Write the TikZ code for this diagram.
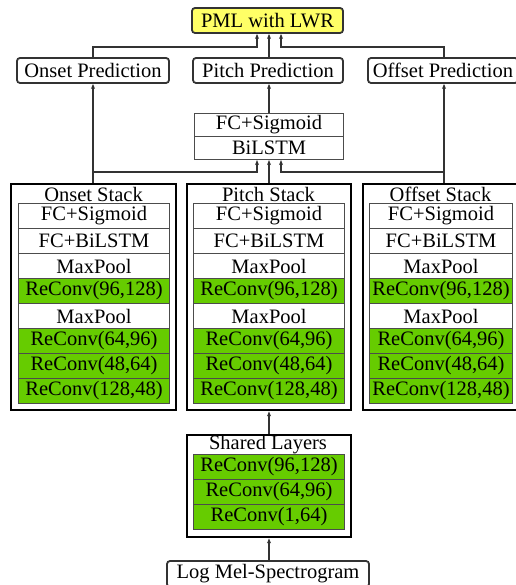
\documentclass[tikz,border=0pt]{standalone}
\usepackage{fontspec}
\setmainfont{Liberation Serif}
\newfontfamily\timesfam{Liberation Serif}
\usetikzlibrary{arrows.meta,calc}
\definecolor{gfill}{HTML}{66CC00}
\definecolor{yfill}{HTML}{FFFF66}
\newcommand\mkstack[3]{% #1 prefix, #2 inner left x, #3 inner width
  \node[layerrow, minimum width=#3pt] (#1a) at (#2,203) {FC+Sigmoid};
  \node[layerrow, minimum width=#3pt] (#1b) at (#2,228) {FC+BiLSTM};
  \node[layerrow, minimum width=#3pt] (#1c) at (#2,253) {MaxPool};
  \node[greenrow, minimum width=#3pt] (#1d) at (#2,278) {ReConv(96,128)};
  \node[layerrow, minimum width=#3pt] (#1e) at (#2,303) {MaxPool};
  \node[greenrow, minimum width=#3pt] (#1f) at (#2,328) {ReConv(64,96)};
  \node[greenrow, minimum width=#3pt] (#1g) at (#2,353) {ReConv(48,64)};
  \node[greenrow, minimum width=#3pt] (#1h) at (#2,378) {ReConv(128,48)};
}
\begin{document}
\begin{tikzpicture}[x=1pt,y=-1pt,
  txt/.style={font=\timesfam\fontsize{20.5}{22}\selectfont, inner sep=0pt},
  layerrow/.style={txt, draw=black!70, line width=1.1pt, minimum height=25pt, anchor=north west},
  greenrow/.style={layerrow, fill=gfill},
  outerbox/.style={draw=black, line width=2.4pt, minimum height=226pt, anchor=north west, inner sep=0pt},
  pred/.style={txt, draw=black!80, line width=1.8pt, rounded corners=3pt, minimum height=25pt},
  arr/.style={draw=black!80, line width=1.2pt, -{Stealth[length=5pt,width=4pt]}}]

\useasboundingbox (0,0) rectangle (515,585);

% top
\node[pred, fill=yfill, minimum width=151pt] (pml) at (267.5,20.5) {PML with LWR};
\node[pred, minimum width=152pt] (onsetpred) at (93,70.5) {Onset Prediction};
\node[pred, minimum width=150pt] (pitchpred) at (268,70.5) {Pitch Prediction};
\node[pred, minimum width=150pt] (offsetpred) at (443,70.5) {Offset Prediction};

% middle
\node[layerrow, minimum width=149pt, minimum height=23pt] (fcs) at (194,113) {FC+Sigmoid};
\node[layerrow, minimum width=149pt, minimum height=23pt] (bil) at (194,136) {BiLSTM};

% stacks
\node[outerbox, minimum width=165pt] (onsetstack) at (10,183) {};
\node[outerbox, minimum width=164pt] (pitchstack) at (186,183) {};
\node[outerbox, minimum width=157pt] (offsetstack) at (362,183) {};
\node[txt] (onsettitle) at (93.5,194) {Onset Stack};
\node[txt] (pitchtitle) at (268.5,194) {Pitch Stack};
\node[txt] (offsettitle) at (440.5,194) {Offset Stack};
\mkstack{on}{18}{151}
\mkstack{pi}{193}{151}
\mkstack{of}{369}{143}

% shared
\node[outerbox, minimum width=164pt, minimum height=102pt] (shared) at (186,434) {};
\node[txt] (sharedtitle) at (268,445) {Shared Layers};
\node[greenrow, minimum width=151pt] (s1) at (193,454) {ReConv(96,128)};
\node[greenrow, minimum width=151pt] (s2) at (193,479) {ReConv(64,96)};
\node[greenrow, minimum width=151pt] (s3) at (193,504) {ReConv(1,64)};

\node[pred, minimum width=202pt, minimum height=26pt] (logmel) at (268,574) {Log Mel-Spectrogram};

% connectors
\coordinate (jl) at (257,47);
\coordinate (jr) at (281,47);
\coordinate (bl) at (257,172);
\coordinate (br) at (281,172);
\coordinate (ox) at (444,0);
\coordinate (cx) at (269,0);

\draw[arr] (onsetpred.north) |- (jl) -- (jl |- pml.south);
\draw[arr] (cx |- pitchpred.north) -- (cx |- pml.south);
\draw[arr] (ox |- offsetpred.north) |- (jr) -- (jr |- pml.south);

\draw[arr] (cx |- fcs.north) -- (cx |- pitchpred.south);
\draw[arr] (onsetstack.north -| onsetpred) -- (onsetpred.south);
\draw[arr] (offsetstack.north -| ox) -- (ox |- offsetpred.south);
\draw[arr] (onsetpred |- bl) -- (bl) -- (bl |- bil.south);
\draw[arr] (ox |- br) -- (br) -- (br |- bil.south);
\draw[arr] (cx |- pitchstack.north) -- (cx |- bil.south);

\draw[arr] (cx |- shared.north) -- (cx |- pitchstack.south);
\draw[arr] (cx |- logmel.north) -- (cx |- shared.south);
\end{tikzpicture}
\end{document}
